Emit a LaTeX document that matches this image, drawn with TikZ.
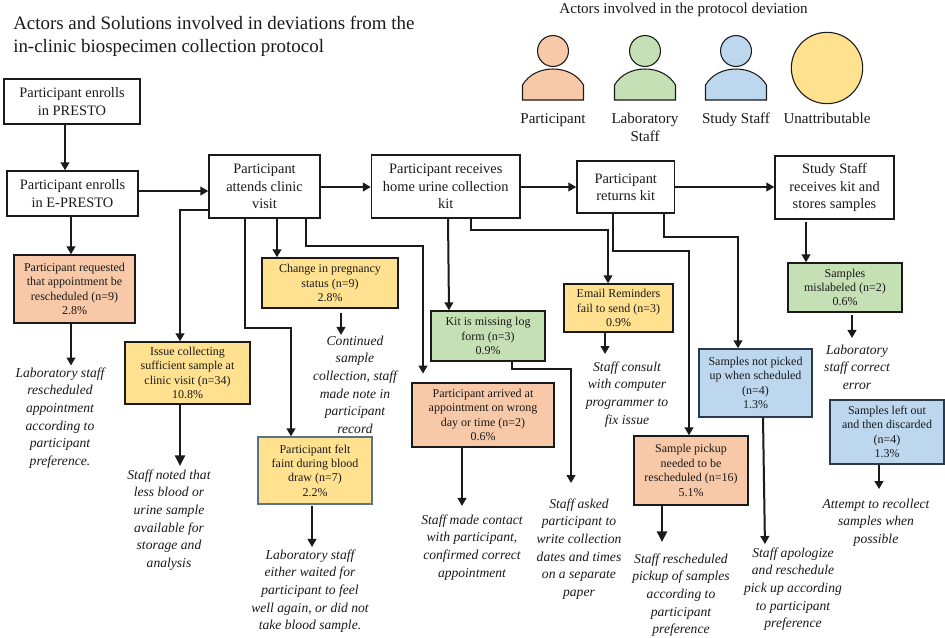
\documentclass[tikz,border=0pt]{standalone}
\usepackage{fontspec}
\setmainfont{Liberation Serif}
\usetikzlibrary{arrows.meta}
\definecolor{peach}{HTML}{F7C9A8}
\definecolor{leaf}{HTML}{C5E0B4}
\definecolor{sky}{HTML}{BDD7EE}
\definecolor{sand}{HTML}{FFE190}
\definecolor{slate}{HTML}{2B3A48}
\definecolor{ink}{HTML}{1A1A1A}
\definecolor{steel}{HTML}{5A7389}
\tikzset{
  every node/.append style={text=ink},
  base box/.style={draw=ink,rectangle,inner sep=0pt,align=center,line width=1.05pt},
  whitebox/.style={base box,fill=white,font=\fontsize{10.8}{13}\selectfont},
  colbox/.style={base box,font=\fontsize{9}{10.8}\selectfont},
  peachbox/.style={colbox,fill=peach},
  leafbox/.style={colbox,fill=leaf},
  skybox/.style={colbox,fill=sky,draw=slate},
  sandbox/.style={colbox,fill=sand},
  paleedge/.style={draw=steel},
  solution/.style={inner sep=0pt,anchor=north,align=center,font=\fontsize{10.2}{13.2}\selectfont\itshape},
  legend/.style={inner sep=0pt,align=center,font=\fontsize{11.3}{13}\selectfont},
  conn/.style={draw=ink,line width=1.5pt,-{Triangle[length=6pt,width=6.5pt]}},
  connb/.style={draw=ink,line width=1.7pt,-{Triangle[length=8pt,width=7.5pt]}},
  actor/.style={draw=ink,line width=0.8pt},
}
\newcommand{\bx}[7]{%
  \pgfmathsetmacro{\cxx}{(#3+#5)/2}\pgfmathsetmacro{\cyy}{(#4+#6)/2}%
  \pgfmathsetmacro{\wdd}{(#5-#3)*0.75}\pgfmathsetmacro{\htt}{(#6-#4)*0.75}%
  \node[#2,minimum width=\wdd pt,minimum height=\htt pt] (#1) at (\cxx,\cyy) {#7};}
\newcommand{\sol}[4]{\node[solution] (#1) at (#2,#3) {#4};}
\newcommand{\person}[4]{% name, centre x, colour
  \fill[#3] (#2-30.5,100) -- (#2-30.5,85) .. controls (#2-24,74) and (#2-12,69) .. (#2,69) .. controls (#2+12,69) and (#2+24,74) .. (#2+30.5,85) -- (#2+30.5,100) -- cycle;
  \draw[actor] (#2-30.5,100) -- (#2-30.5,85) .. controls (#2-24,74) and (#2-12,69) .. (#2,69) .. controls (#2+12,69) and (#2+24,74) .. (#2+30.5,85) -- (#2+30.5,100) -- cycle;
  \node[circle,draw=ink,line width=0.8pt,fill=#3,minimum size=23.2pt,inner sep=0pt] (#1) at (#2,51) {};
  \node[legend,anchor=north] (#1t) at (#2,113) {#4};}
\begin{document}
\begin{tikzpicture}[x=0.75pt,y=-0.75pt]
\useasboundingbox[fill=white] (0,0) rectangle (945,637);
% titles
\node[anchor=north west,inner sep=0pt,align=left,font=\fontsize{14.2}{17}\selectfont] (title) at (13,16) {Actors and Solutions involved in deviations from the\\in-clinic biospecimen collection protocol};
\node[legend] (ltitle) at (683.5,10) {Actors involved in the protocol deviation};
% legend
\person{pa}{553}{peach}{Participant}
\person{la}{645}{leaf}{Laboratory\\Staff}
\person{st}{736}{sky}{Study Staff}
\node[circle,draw=ink,line width=0.8pt,fill=sand,minimum size=53.5pt,inner sep=0pt] (un) at (827,68) {};
\node[legend,anchor=north] (unt) at (827,113) {Unattributable};
% main boxes
\bx{a}{whitebox}{4}{79}{140}{124}{Participant enrolls\\in PRESTO}
\bx{b}{whitebox}{7}{171}{138}{216}{Participant enrolls\\in E-PRESTO}
\bx{c}{whitebox}{209}{155}{320}{218}{Participant\\attends clinic\\visit}
\bx{d}{whitebox}{371.5}{155}{520}{218}{Participant receives\\home urine collection\\kit}
\bx{e}{whitebox}{577}{161}{674.5}{213}{Participant\\returns kit}
\bx{f}{whitebox}{775}{156}{894}{219}{Study Staff\\receives kit and\\stores samples}
% deviation boxes
\bx{g}{peachbox}{14}{255}{135}{323}{Participant requested\\that appointment be\\rescheduled (n=9)\\2.8\%}
\bx{h}{sandbox}{262}{258}{398}{308}{Change in pregnancy\\status (n=9)\\2.8\%}
\bx{i}{sandbox}{125}{342}{250}{404}{Issue collecting\\sufficient sample at\\clinic visit (n=34)\\10.8\%}
\bx{j}{sandbox,paleedge}{258}{437}{372}{504}{Participant felt\\faint during blood\\draw (n=7)\\2.2\%}
\bx{k}{leafbox}{431}{311}{545}{361}{Kit is missing log\\form (n=3)\\0.9\%}
\bx{l}{sandbox}{564}{284}{673}{332}{Email Reminders\\fail to send (n=3)\\0.9\%}
\bx{m}{peachbox}{412}{383}{554}{447}{Participant arrived at\\appointment on wrong\\day or time (n=2)\\0.6\%}
\bx{n}{peachbox}{634}{436}{748}{505}{Sample pickup\\needed to be\\rescheduled (n=16)\\5.1\%}
\bx{o}{skybox}{699}{349}{812}{417}{Samples not picked\\up when scheduled\\(n=4)\\1.3\%}
\bx{p}{leafbox}{788}{263}{902}{312}{Samples\\mislabeled (n=2)\\0.6\%}
\bx{q}{skybox}{830}{400}{944}{464}{Samples left out\\and then discarded\\(n=4)\\1.3\%}
% solutions
\sol{sg}{60}{367.5}{Laboratory staff\\rescheduled\\appointment\\according to\\participant\\preference.}
\sol{sh}{355}{335.5}{Continued\\sample\\collection, staff\\made note in\\participant\\record}
\sol{si}{169}{469.5}{Staff noted that\\less blood or\\urine sample\\available for\\storage and\\analysis}
\sol{sj}{310}{549.5}{Laboratory staff\\either waited for\\participant to feel\\well again, or did not\\take blood sample.}
\sol{sk}{579}{498.5}{Staff asked\\participant to\\write collection\\dates and times\\on a separate\\paper}
\sol{sl}{627}{361.5}{Staff consult\\with computer\\programmer to\\fix issue}
\sol{sm}{472}{514.5}{Staff made contact\\with participant,\\confirmed correct\\appointment}
\sol{sn}{681}{553.5}{Staff rescheduled\\pickup of samples\\according to\\participant\\preference}
\sol{so}{793}{547.5}{Staff apologize\\and reschedule\\pick up according\\to participant\\preference}
\sol{sp}{857}{344.5}{Laboratory\\staff correct\\error}
\sol{sq}{876}{498.5}{Attempt to recollect\\samples when\\possible}
% connectors along the main flow
\draw[conn] (a.south -| 65,0) -- (b.north -| 65,0);
\draw[conn] (b.east |- 0,191) -- (c.west |- 0,191);
\draw[conn] (c.east |- 0,187) -- (d.west |- 0,187);
\draw[conn] (d.east |- 0,187) -- (e.west |- 0,187);
\draw[conn] (e.east |- 0,187) -- (f.west |- 0,187);
% to deviations
\draw[conn] (b.south -| 71,0) -- (g.north -| 71,0);
\draw[conn] (c.west |- 0,210) -- (180,210) -- (i.north -| 180,0);
\draw[conn] (c.south -| 245,0) -- (245,328) -- (291,328) -- (j.north -| 291,0);
\draw[conn] (c.south -| 277,0) -- (h.north -| 277,0);
\draw[conn,shorten >=6.5pt] (c.south -| 305.5,0) -- (305.5,246) -- (423,246) -- (m.north -| 423,0);
\draw[conn] (d.south -| 448,0) -- (k.north -| 449,0);
\draw[conn] (d.south -| 471,0) -- (471,230) -- (608,230) -- (l.north -| 608,0);
\draw[conn] (e.south -| 613,0) -- (613,251) -- (689,251) -- (n.north -| 689,0);
\draw[conn] (e.south -| 664,0) -- (664,237) -- (738,237) -- (o.north -| 738,0);
\draw[conn,shorten <=2pt] (f.south -| 806,0) -- (p.north -| 806,0);
% to solutions
\draw[conn,shorten >=1.5pt] (g.south -| 71,0) -- (sg.north -| 71,0);
\draw[conn,shorten <=3pt,shorten >=0.4pt] (h.south -| 341,0) -- (sh.north -| 341,0);
\draw[connb,shorten >=2.6pt] (i.south -| 180,0) -- (si.north -| 180,0);
\draw[conn,shorten <=1pt,shorten >=1.9pt] (j.south -| 312,0) -- (sj.north -| 312,0);
\draw[conn,shorten >=11.6pt] (k.south -| 512,0) -- (512,369) -- (571,369) -- (sk.north -| 571,0);
\draw[conn,shorten >=5.6pt] (l.south -| 605,0) -- (sl.north -| 605,0);
\draw[conn,shorten >=6.4pt] (m.south -| 462,0) -- (sm.north -| 462,0);
\draw[connb,shorten >=8.6pt] (n.south -| 662,0) -- (sn.north -| 662,0);
\draw[conn,shorten >=2.6pt] (o.south -| 763,0) -- (so.north -| 765,0);
\draw[conn,shorten <=2pt,shorten >=4.9pt] (p.south -| 852,0) -- (sp.north -| 852,0);
\draw[conn,shorten >=7.1pt] (q.south -| 879,0) -- (sq.north -| 879,0);
\end{tikzpicture}
\end{document}
